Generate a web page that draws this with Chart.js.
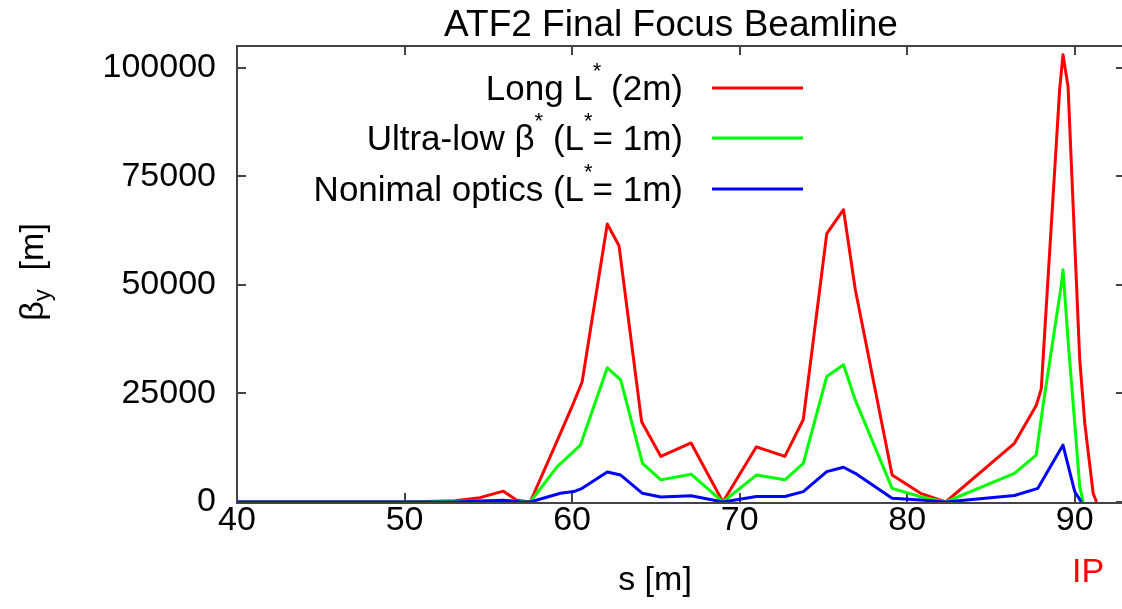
<!DOCTYPE html>
<html>
<head>
<meta charset="utf-8">
<script src="https://cdn.jsdelivr.net/npm/chart.js@4"></script>
<style>
html,body{margin:0;padding:0;background:#fff;overflow:hidden;}
#wrap{width:1128px;height:609px;}
</style>
</head>
<body>
<div id="wrap"><canvas id="betachart" width="1128" height="609"></canvas></div>
<script>
// beta_y along the final focus
const sRed    = [40, 50, 53.0, 54.5, 55.9, 56.7, 57.5, 59.1, 60.0, 60.6, 62.1, 62.8, 64.15, 65.3, 67.1, 69.0, 71.0, 72.7, 73.8, 75.2, 76.2, 76.9, 79.1, 80.8, 82.3, 86.4, 87.7, 88.0, 89.1, 89.3, 89.6, 90.3, 90.6, 91.1, 91.3];
const betaRed = [0, 0, 300, 1000, 2500, 400, 0, 14000, 22000, 27700, 64000, 59000, 18500, 10500, 13600, 0, 12700, 10500, 19000, 61800, 67300, 49000, 6200, 2000, 0, 13500, 22200, 26000, 95000, 103000, 95700, 32700, 18100, 2000, 0];

const sGreen    = [40, 50, 55.9, 57.5, 59.1, 60.5, 62.1, 62.9, 64.2, 65.3, 67.1, 69.0, 71.0, 72.7, 73.8, 75.2, 76.2, 76.9, 79.1, 80.8, 82.3, 86.4, 87.7, 88.1, 89.2, 89.3, 89.6, 90.0, 90.3, 90.5];
const betaGreen = [0, 0, 300, 0, 8100, 13100, 30900, 28100, 8900, 5100, 6400, 0, 6200, 5100, 8900, 28900, 31600, 23500, 3150, 1200, 0, 6600, 10800, 22000, 50000, 53500, 37300, 18100, 3500, 0];

const sBlue    = [40, 53, 55.9, 57.0, 57.5, 59.3, 60.1, 60.6, 62.1, 62.9, 64.2, 65.3, 67.1, 69.0, 71.0, 72.7, 73.8, 75.2, 76.2, 76.9, 79.1, 80.8, 82.3, 86.4, 87.8, 89.3, 90.0, 90.4];
const betaBlue = [0, 0, 400, 0, 0, 2000, 2400, 3150, 6900, 6200, 2000, 1150, 1450, 0, 1250, 1250, 2400, 7000, 8000, 6600, 850, 450, 0, 1500, 3150, 13100, 2400, 0];

const xTicks = [40, 50, 60, 70, 80, 90];
const yTicks = [0, 25000, 50000, 75000, 100000];

// legend entries: [text, isSuperscript]
const legendRed   = [["Long L", 0], ["*", 1], [" (2m)", 0]];
const legendGreen = [["Ultra-low \u03B2", 0], ["*", 1], [" (L", 0], ["*", 1], ["= 1m)", 0]];
const legendBlue  = [["Nonimal optics (L", 0], ["*", 1], ["= 1m)", 0]];

const FAM = "'Liberation Sans', Arial, sans-serif";
const FS = 34;      // ticks and axis labels
const FS_LEG = 35;  // legend
const FS_TITLE = 37;

function pts(xs, ys){
    let out = [];
    for(let i=0;i<xs.length;i++){
        out.push({x:xs[i], y:ys[i]});
    }
    return out;
}

function richWidth(ctx, segs, size){
    let w = 0;
    for(const [t, sup] of segs){
        ctx.font = (sup ? Math.round(size*0.62) : size) + "px " + FAM;
        w += ctx.measureText(t).width;
    }
    return w;
}

function drawRich(ctx, segs, x, y, size, shift){
    for(const [t, sup] of segs){
        ctx.font = (sup ? Math.round(size*0.62) : size) + "px " + FAM;
        ctx.fillText(t, x, sup ? y + shift : y);
        x += ctx.measureText(t).width;
    }
}

const decor = {
    id: 'decor',
    beforeDatasetsDraw(chart){
        const ctx = chart.ctx;
        const a = chart.chartArea;
        const xs = chart.scales.x, ys = chart.scales.y;
        ctx.save();
        ctx.strokeStyle = "#444";
        ctx.lineWidth = 2;
        ctx.strokeRect(a.left, a.top, a.right - a.left, a.bottom - a.top + 1);
        ctx.beginPath();
        for(const t of xs.ticks){
            const px = Math.round(xs.getPixelForValue(t.value));
            ctx.moveTo(px, a.bottom); ctx.lineTo(px, a.bottom - 9);
            ctx.moveTo(px, a.top); ctx.lineTo(px, a.top + 9);
        }
        for(const t of ys.ticks){
            const py = Math.round(ys.getPixelForValue(t.value));
            ctx.moveTo(a.left, py); ctx.lineTo(a.left + 9, py);
            ctx.moveTo(a.right, py); ctx.lineTo(a.right - 9, py);
        }
        ctx.stroke();
        ctx.restore();
    },
    afterDraw(chart){
        const ctx = chart.ctx;
        ctx.save();
        ctx.fillStyle = "#000";
        ctx.textBaseline = "alphabetic";

        // title
        ctx.font = FS_TITLE + "px " + FAM;
        ctx.textAlign = "center";
        ctx.fillText("ATF2 Final Focus Beamline", 671, 36);

        // x label and IP marker
        ctx.font = FS + "px " + FAM;
        ctx.fillText("s [m]", 655, 590);
        ctx.fillStyle = "#ff0000";
        ctx.fillText("IP", chart.scales.x.getPixelForValue(90.8), 582);

        // y label, rotated
        ctx.fillStyle = "#000";
        ctx.textAlign = "left";
        ctx.translate(43, 272);
        ctx.rotate(-Math.PI/2);
        const ylab = [["\u03B2", 0], ["y", 2], ["  [m]", 0]];
        let w = 0;
        for(const [t, k] of ylab){
            ctx.font = (k ? Math.round(FS*0.7) : FS) + "px " + FAM;
            w += ctx.measureText(t).width;
        }
        let x = -w/2;
        for(const [t, k] of ylab){
            ctx.font = (k ? Math.round(FS*0.7) : FS) + "px " + FAM;
            ctx.fillText(t, x, k ? 7 : 0);
            x += ctx.measureText(t).width;
        }
        ctx.restore();

        // legend
        ctx.save();
        ctx.fillStyle = "#000";
        ctx.textAlign = "left";
        const rows = [[legendRed, "#ff0000", 88], [legendGreen, "#00ff00", 138], [legendBlue, "#0000ff", 189]];
        for(const [segs, col, yy] of rows){
            const rw = richWidth(ctx, segs, FS_LEG);
            drawRich(ctx, segs, 683 - rw, yy + 12, FS_LEG, -22);
            ctx.strokeStyle = col;
            ctx.lineWidth = 3;
            ctx.beginPath();
            ctx.moveTo(712, yy); ctx.lineTo(803, yy);
            ctx.stroke();
        }
        ctx.restore();
    }
};

new Chart(document.getElementById("betachart").getContext("2d"), {
    type: 'line',
    data: {
        datasets: [
            {label:'Long L* (2m)', data:pts(sRed, betaRed), borderColor:'#ff0000', order:3},
            {label:'Ultra-low beta* (L*= 1m)', data:pts(sGreen, betaGreen), borderColor:'#00ff00', order:2},
            {label:'Nonimal optics (L*= 1m)', data:pts(sBlue, betaBlue), borderColor:'#0000ff', order:1}
        ]
    },
    options:{
        responsive:false,
        animation:false,
        parsing:false,
        elements:{
            line:{borderWidth:3, tension:0, fill:false, borderJoinStyle:'round'},
            point:{radius:0}
        },
        layout:{padding:{left:0, right:3, top:46, bottom:0}},
        plugins:{legend:{display:false}, tooltip:{enabled:false}},
        scales:{
            x:{
                type:'linear', min:40, max:93,
                grid:{display:false, drawTicks:false}, border:{display:false},
                afterFit: s => { s.height = 107; },
                afterBuildTicks: s => { s.ticks = xTicks.map(v => ({value:v})); },
                ticks:{color:'#000', font:{family:FAM, size:FS, lineHeight:1}, padding:2, maxRotation:0, autoSkip:false}
            },
            y:{
                type:'linear', min:0, max:105000,
                grid:{display:false, drawTicks:false}, border:{display:false},
                afterFit: s => { s.width = 237; },
                afterBuildTicks: s => { s.ticks = yTicks.map(v => ({value:v})); },
                ticks:{color:'#000', font:{family:FAM, size:FS, lineHeight:1}, padding:21, callback: v => String(v)}
            }
        }
    },
    plugins:[decor]
});
</script>
</body>
</html>
